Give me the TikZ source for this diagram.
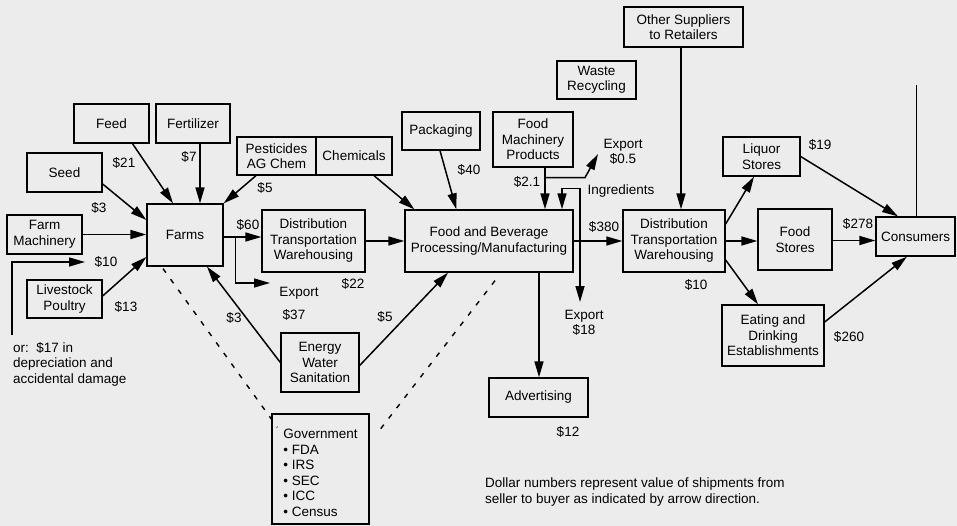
\documentclass[tikz,border=0pt]{standalone}
\usepackage{fontspec}
\setmainfont{Liberation Sans}
\usetikzlibrary{arrows.meta}
\definecolor{paper}{RGB}{236,236,236}

\begin{document}
\begin{tikzpicture}[x=1pt,y=-1pt,font=\fontsize{13.5}{15.5}\selectfont,
    box/.style={draw,line width=1.3pt,inner sep=0pt,align=center},
    arr/.style={line width=1.5pt,-{Triangle[length=16pt,width=9pt]}},
    lbl/.style={inner sep=0pt},
    govlink/.style={line width=1.4pt,dash pattern=on 5pt off 8pt}]
    \fill[paper] (0,0) rectangle (957,526);
    \useasboundingbox (0,0) rectangle (957,526);
    % input suppliers of the farms
    \node[box,minimum width=75,minimum height=39] (feed) at (111.5,123.5) {Feed};
    \node[box,minimum width=74,minimum height=39] (fert) at (193,123.5) {Fertilizer};
    \node[box,minimum width=75,minimum height=39] (seed) at (64.5,172.5) {Seed};
    \node[box,minimum width=75,minimum height=39] (fmach) at (44.5,234.5) {Farm\\Machinery};
    \node[box,minimum width=75,minimum height=38] (stock) at (64.5,299) {Livestock\\Poultry};
    \node[box,minimum width=76,minimum height=62] (farms) at (185,235) {Farms};
    \node[box,minimum width=79,minimum height=38] (pest) at (276.5,156) {Pesticides\\AG Chem};
    \node[box,minimum width=76,minimum height=38] (chem) at (354,156) {Chemicals};
    \node[box,minimum width=103,minimum height=62] (dist1) at (313.5,241) {Distribution\\Transportation\\Warehousing};
    % processing
    \node[box,minimum width=78,minimum height=38] (pack) at (441,131) {Packaging};
    \node[box,minimum width=80,minimum height=55] (fdmach) at (533,139.5) {Food\\Machinery\\Products};
    \node[box,minimum width=168,minimum height=62] (fb) at (489,241) {Food and Beverage\\Processing/Manufacturing};
    \node[box,minimum width=78,minimum height=59] (energy) at (320,362.5) {Energy\\Water\\Sanitation};
    \node[box,minimum width=97,minimum height=110] (gov) at (320.5,469) {};
    \node[lbl,align=left] (govtxt) at ([yshift=-4pt]gov.center) {Government\\• FDA\\• IRS\\• SEC\\• ICC\\• Census};
    \node[box,minimum width=99,minimum height=39] (adv) at (538.5,397.5) {Advertising};
    \node[box,minimum width=79,minimum height=38] (waste) at (596.5,80) {Waste\\Recycling};
    % retail side
    \node[box,minimum width=119,minimum height=40] (other) at (683.5,27) {Other Suppliers\\to Retailers};
    \node[box,minimum width=102,minimum height=62] (dist2) at (674,241) {Distribution\\Transportation\\Warehousing};
    \node[box,minimum width=77,minimum height=39] (liquor) at (761.5,156.5) {Liquor\\Stores};
    \node[box,minimum width=74,minimum height=61] (fstore) at (795,239.5) {Food\\Stores};
    \node[box,minimum width=102,minimum height=61] (eat) at (773,335.5) {Eating and\\Drinking\\Establishments};
    \node[box,minimum width=79,minimum height=39] (cons) at (915.5,236.5) {Consumers};
    % free ends
    \coordinate (deprstart) at (12,335);
    \coordinate (deprend) at (85,262);
    \coordinate (expfarm) at (270,283);
    \coordinate (expmach) at (598,154);
    \coordinate (expfb) at (580,302);
    \coordinate (constop) at (916,85);
    % connectors
    \draw[arr] ([xshift=21pt]feed.south) -- ([xshift=-12pt]farms.north);
    \draw[arr] ([xshift=7pt]fert.south) -- ([xshift=15pt]farms.north);
    \draw[arr] ([yshift=-11.5pt]seed.east) -- ([yshift=15pt]farms.west);
    \draw[arr] (fmach.east) -- (fmach.east -| farms.west);
    \draw[arr] ([yshift=3pt]stock.east) -- ([yshift=-22pt]farms.west);
    \draw[arr] ([xshift=-20.5pt]pest.south) -- (farms.north east);
    \draw[arr] (deprstart) |- (deprend);
    \draw[arr] ([yshift=-2pt]farms.east) -- ([yshift=-2pt]farms.east -| dist1.west);
    \draw[arr] ([xshift=12pt,yshift=-2pt]farms.east) |- (expfarm);
    \draw[arr] (dist1.east) -- (fb.west);
    \draw[arr] ([xshift=20pt]chem.south) -- ([xshift=10pt]fb.north west);
    \draw[arr] ([xshift=-1pt]pack.south) -- ([xshift=52pt]fb.north west);
    \draw[arr] ([xshift=12pt]fdmach.south) -- ([xshift=12pt]fdmach.south |- fb.north);
    \draw[arr] ([xshift=12pt,yshift=-10pt]fdmach.south) -- ++(40,0) -- (expmach);
    \draw[line width=1.5pt,{Triangle[length=16pt,width=9pt]}-{Triangle[length=16pt,width=9pt]}]
        ([xshift=73pt]fb.north) -- ++(0,-21) -| (expfb);
    \draw[arr] (fb.east) -- (dist2.west);
    \draw[arr] ([xshift=50pt]fb.south) -- ([xshift=50pt]fb.south |- adv.north);
    \draw[arr] ([yshift=-3pt]energy.east) -- ([xshift=-41pt]fb.south);
    \draw[arr] (energy.west) -- ([xshift=22pt]farms.south);
    \draw[arr] ([xshift=-2.5pt]other.south) -- ([xshift=-2.5pt]other.south |- dist2.north);
    \draw[arr] ([yshift=17pt]dist2.east) -- ([xshift=-7.5pt]liquor.south);
    \draw[arr] (dist2.east) -- (dist2.east -| fstore.west);
    \draw[arr] ([yshift=-19pt]dist2.east) -- ([xshift=-15pt]eat.north);
    \draw[arr] (liquor.east) -- ([xshift=-17.5pt]cons.north);
    \draw[arr] ([yshift=-1pt]fstore.east) -- ([yshift=-1pt]fstore.east -| cons.west);
    \draw[arr] ([yshift=13.5pt]eat.east) -- ([xshift=-8.5pt]cons.south);
    \draw[line width=1pt] (constop |- cons.north) -- (constop);
    % government links
    \draw[govlink] ([xshift=-22pt,yshift=-2pt]farms.south) -- ([xshift=6pt,yshift=-14pt]gov.north west);
    \draw[govlink] ([xshift=6pt,yshift=-8pt]fb.south) -- ([xshift=9pt,yshift=-18pt]gov.north east);
    % dollar values
    \node[lbl] (v21) at (124,163) {\$21};
    \node[lbl] (v7) at (189,157) {\$7};
    \node[lbl] (v3a) at (99,208) {\$3};
    \node[lbl] (v5a) at (265,188) {\$5};
    \node[lbl] (v60) at (248,225) {\$60};
    \node[lbl] (v10a) at (106,262) {\$10};
    \node[lbl] (v13) at (126,307) {\$13};
    \node[lbl] (xp1) at (299,293) {Export};
    \node[lbl] (v37) at (294,315) {\$37};
    \node[lbl] (v22) at (353,284) {\$22};
    \node[lbl] (v3b) at (234,318) {\$3};
    \node[lbl] (v5b) at (385,317) {\$5};
    \node[lbl] (v40) at (469,170) {\$40};
    \node[lbl] (v21b) at (527,182) {\$2.1};
    \node[lbl,align=center] (xp2) at (623,152) {Export\\\$0.5};
    \node[lbl] (ingr) at (621,191) {Ingredients};
    \node[lbl] (v380) at (604,227) {\$380};
    \node[lbl,align=center] (xp3) at (584,323) {Export\\\$18};
    \node[lbl] (v10b) at (696,285) {\$10};
    \node[lbl] (v19) at (820,145) {\$19};
    \node[lbl] (v278) at (858,224) {\$278};
    \node[lbl] (v260) at (849,337) {\$260};
    \node[lbl] (v12) at (568,432) {\$12};
    \node[lbl,align=left,anchor=north west] (depr) at (13,342) {or:\ \ \$17 in\\depreciation and\\accidental damage};
    \node[lbl,align=left,anchor=west] (note) at (485,492) {Dollar numbers represent value of shipments from\\seller to buyer as indicated by arrow direction.};
\end{tikzpicture}
\end{document}
